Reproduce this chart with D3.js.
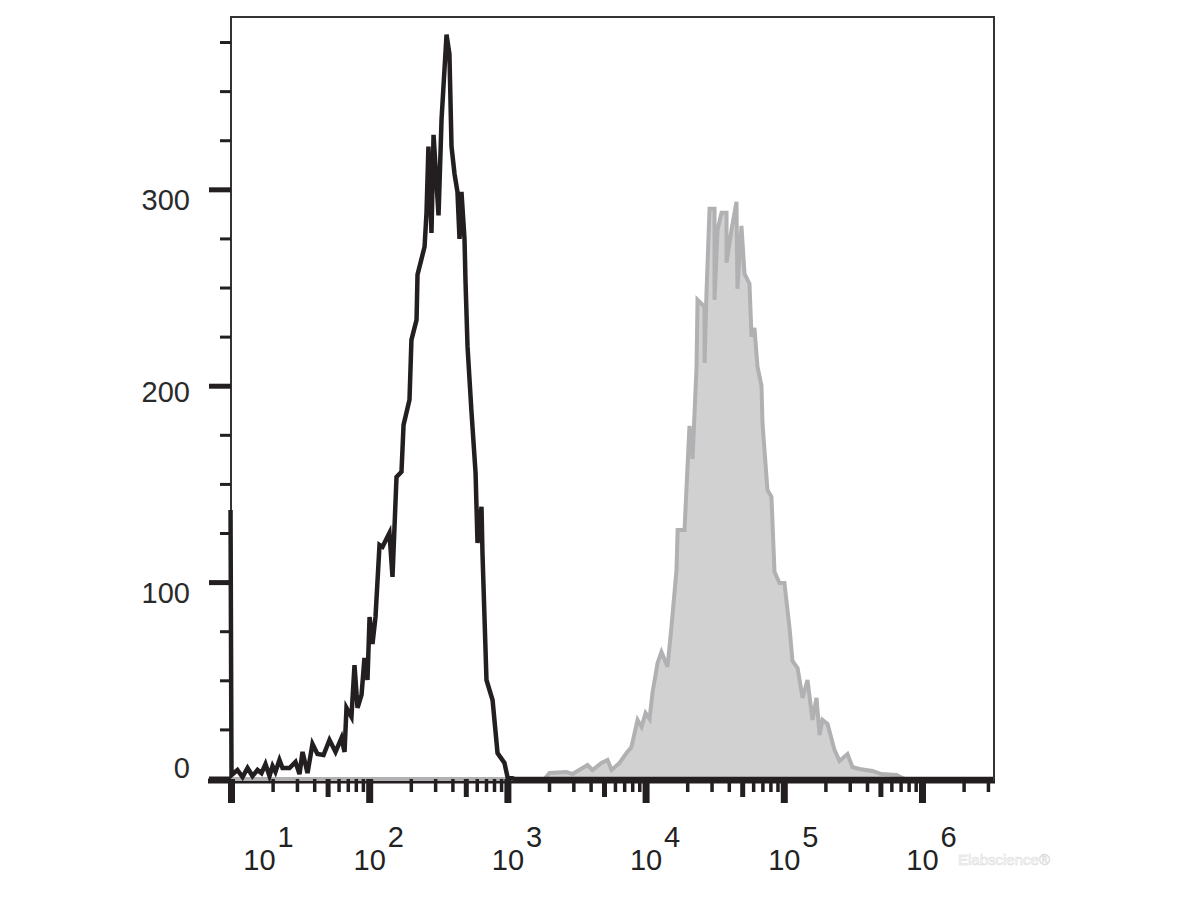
<!DOCTYPE html>
<html>
<head>
<meta charset="utf-8">
<script src="https://cdn.jsdelivr.net/npm/d3@7/dist/d3.min.js"></script>
<style>
  html, body { margin: 0; padding: 0; background: #fff; }
  svg { display: block; }
  text { font-family: "Liberation Sans", Arial, sans-serif; }
</style>
</head>
<body>
<svg id="chart" width="1200" height="900"></svg>
<script>
// ---- data (log10 channel, event count) ----
const blackLog = [0.993,1.000,1.043,1.080,1.116,1.152,1.188,1.217,1.246,1.275,1.297,1.318,1.347,1.369,1.420,1.463,1.492,1.514,1.550,1.586,1.622,1.666,1.709,1.753,1.796,1.818,1.832,1.868,1.890,1.912,1.941,1.962,1.984,1.999,2.020,2.042,2.071,2.093,2.143,2.165,2.194,2.230,2.245,2.288,2.302,2.339,2.346,2.397,2.411,2.425,2.447,2.462,2.498,2.520,2.556,2.577,2.592,2.614,2.635,2.650,2.664,2.686,2.693,2.708,2.737,2.766,2.780,2.809,2.816,2.845,2.889,2.925,2.975,2.997,3.050,6.514];
const blackCount = [137,2,4.6,1,5.6,1.5,4.6,3,7.6,1.5,6.6,3.6,9.7,5.6,5.6,8.7,2.5,13.8,3,17.8,12.7,12.2,19.9,13.8,20.9,13.8,36.2,31.6,58,36.2,42.8,61.6,50.4,82.5,68.8,82.5,119.2,118.2,125.3,102.9,153.8,156.4,180.3,193.1,223.6,233.8,256.8,271,288.3,322,278,328,287,336,379,369,322,308,299,275,299,275,254,220,186.4,155.9,120.2,138.6,115.1,50.4,40.2,13.2,8.2,1,0,0];

const grayLog = [0.993,3.265,3.301,3.424,3.467,3.576,3.612,3.677,3.721,3.750,3.808,3.858,3.894,3.938,3.967,3.996,4.025,4.046,4.083,4.111,4.155,4.184,4.220,4.228,4.278,4.292,4.314,4.336,4.365,4.372,4.423,4.423,4.437,4.459,4.495,4.495,4.517,4.546,4.582,4.582,4.618,4.654,4.661,4.690,4.712,4.748,4.763,4.784,4.806,4.835,4.842,4.878,4.907,4.929,4.965,5.001,5.038,5.059,5.096,5.132,5.168,5.204,5.233,5.255,5.276,5.313,5.363,5.399,5.457,5.493,5.544,5.638,5.703,5.812,5.870,6.514];
const grayCount = [0,0,3.1,3.6,2.5,7.1,4.6,8.2,9.7,4.6,8.2,13.2,16.3,30.1,26.5,33.6,30.6,43.8,59.1,64.7,57.1,77.9,106.5,126.8,126.8,147.7,179.8,163,209.9,244,240.4,211.9,247.6,290.4,290.4,244,279.7,288.3,288.3,262.9,279.7,293.9,249.6,281.7,257.3,252.2,225.2,229.7,209.9,200.2,181.4,147.2,143.7,105.5,99.8,99.8,76.9,60.1,56.5,41.3,50.4,30.1,41.3,22.4,30.1,28,14.8,9.2,12.7,6.1,5.1,4.1,2.5,2,0,0];

const yMajorTicks = [0, 100, 200, 300];
const yMinorTicks = [25, 50, 75, 125, 150, 175, 225, 250, 275, 325, 350, 375];
const xDecades = [1, 2, 3, 4, 5, 6];
const xDecadeLabelBase = "10";

(function () {
  // ---- layout ----
  const svg = d3.select("#chart");
  const pLeft = 231, pRight = 994, pTop = 17, pBase = 779;

  const x = d3.scaleLog().domain([1e1, 1e6]).range([231.5, 231.5 + 5 * 138.2]);
  const y = d3.scaleLinear().domain([0, 388]).range([pBase, pTop]);

  const ink = "#231f20";

  // frame
  svg.append("path")
    .attr("d", `M${pLeft},${pBase} V${pTop} H${pRight} V${pBase}`)
    .attr("fill", "none").attr("stroke", "#333").attr("stroke-width", 2);

  // bottom axis thick line
  svg.append("line")
    .attr("x1", 208).attr("x2", pRight + 1)
    .attr("y1", pBase + 2).attr("y2", pBase + 2)
    .attr("stroke", ink).attr("stroke-width", 5);

  // gray histogram (filled)
  const grayData = grayLog.map((l, i) => ({ v: Math.pow(10, l), c: grayCount[i] }));
  svg.append("path")
    .datum(grayData)
    .attr("d", d3.area().x(d => x(d.v)).y0(y(0)).y1(d => y(d.c)))
    .attr("fill", "#d1d1d1").attr("stroke", "none");
  svg.append("path")
    .datum(grayData)
    .attr("d", d3.line().x(d => x(d.v)).y(d => y(d.c)))
    .attr("fill", "none").attr("stroke", "#b1b1b3").attr("stroke-width", 4)
    .attr("stroke-linejoin", "miter");

  // black histogram (outline)
  const blackData = blackLog.map((l, i) => ({ v: Math.pow(10, l), c: blackCount[i] }));
  svg.append("path")
    .datum(blackData)
    .attr("d", d3.line().x(d => x(d.v)).y(d => y(d.c)))
    .attr("fill", "none").attr("stroke", ink).attr("stroke-width", 4.5)
    .attr("stroke-linejoin", "miter").attr("stroke-miterlimit", 4);

  // y ticks
  const yAxisG = svg.append("g");
  yAxisG.selectAll("line.maj").data(yMajorTicks).join("line")
    .attr("class", "maj")
    .attr("x1", 209).attr("x2", pLeft).attr("y1", d => y(d)).attr("y2", d => y(d))
    .attr("stroke", ink).attr("stroke-width", 5);
  yAxisG.selectAll("line.min").data(yMinorTicks).join("line")
    .attr("class", "min")
    .attr("x1", 220).attr("x2", pLeft).attr("y1", d => y(d)).attr("y2", d => y(d))
    .attr("stroke", ink).attr("stroke-width", 3);
  const yLabelDy = [-11, 10, 5, 10];
  yAxisG.selectAll("text").data(yMajorTicks).join("text")
    .attr("x", 190).attr("y", (d, i) => y(d) + yLabelDy[i])
    .attr("dy", "0.36em")
    .attr("text-anchor", "end")
    .attr("font-size", 29).attr("fill", "#2a2a2a")
    .text(d => d);

  // x ticks
  const xTicks = [];
  for (let e = 1; e <= 6; e++) {
    for (let m = 1; m <= 9; m++) {
      const v = m * Math.pow(10, e);
      if (x(v) > pRight) break;
      xTicks.push({ v, kind: m === 1 ? "major" : (m === 5 ? "mid" : "minor") });
    }
  }
  const tickLen = { major: 24, mid: 18, minor: 13 };
  const tickW = { major: 7, mid: 5, minor: 3.5 };
  svg.append("g").selectAll("line").data(xTicks).join("line")
    .attr("x1", d => x(d.v)).attr("x2", d => x(d.v))
    .attr("y1", pBase).attr("y2", d => pBase + tickLen[d.kind])
    .attr("stroke", ink).attr("stroke-width", d => tickW[d.kind]);

  // x labels: 10^n
  const xl = svg.append("g");
  xDecades.forEach((e, i) => {
    const cx = x(Math.pow(10, e)) + (i === 0 ? 28 : 0);
    xl.append("text")
      .attr("x", cx).attr("y", 870)
      .attr("text-anchor", "middle")
      .attr("font-size", 29).attr("fill", "#222")
      .text(xDecadeLabelBase);
    xl.append("text")
      .attr("x", cx + 18).attr("y", 847)
      .attr("font-size", 29).attr("fill", "#222")
      .text(e);
  });

  // watermark
  svg.append("text")
    .attr("x", 958).attr("y", 865)
    .attr("font-size", 15).attr("fill", "#ffffff")
    .attr("stroke", "#d8d8d8").attr("stroke-width", 0.6)
    .attr("opacity", 0.9)
    .text("Elabscience®");
})();
</script>
</body>
</html>
